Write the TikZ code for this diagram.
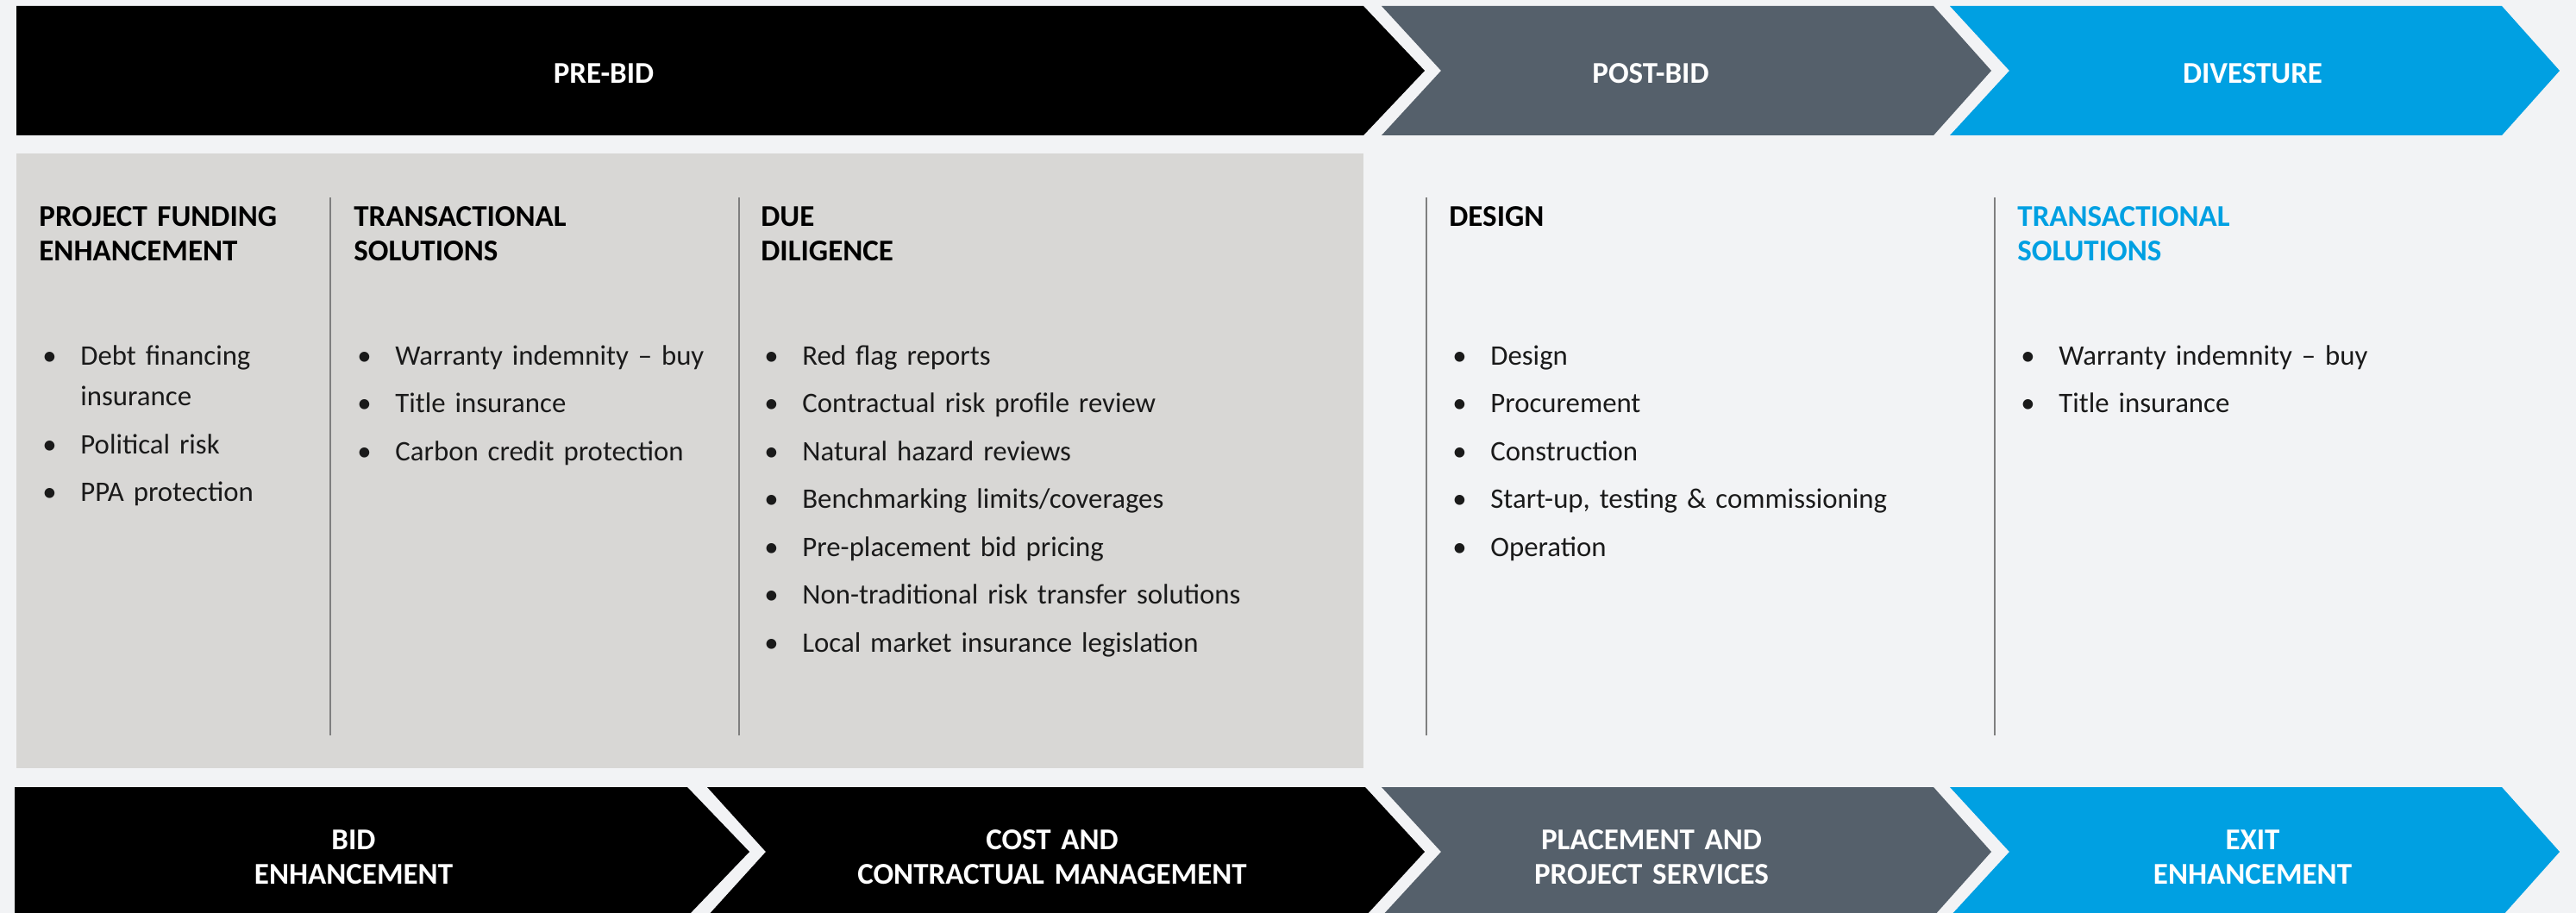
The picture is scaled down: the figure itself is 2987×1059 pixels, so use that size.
\documentclass[tikz,border=0pt]{standalone}
\usepackage{fontspec}
\setmainfont{Carlito}
\usepackage{xcolor}
\usepackage{tikz}

\definecolor{pagebg}{HTML}{F2F3F5}
\definecolor{panelgray}{HTML}{D8D7D5}
\definecolor{slate}{HTML}{55606B}
\definecolor{skyblue}{HTML}{00A0E2}
\definecolor{rulegray}{HTML}{7F7F7F}
\definecolor{bodytext}{HTML}{1A1A1A}

% one bullet point of a list
\newcommand{\itm}[1]{\hangindent=24pt\hangafter=1 \makebox[24pt][l]{\hspace{2pt}\textbullet}#1\par\vspace{4pt}}

\begin{document}
\begin{tikzpicture}[x=0.5pt, y=-0.5pt, % one unit = one pixel of the layout
		stage/.style={font=\fontsize{17.5}{20}\selectfont\bfseries, text=white, inner sep=0pt, anchor=base},
		stagetwo/.style={stage, text width=260pt, align=center},
		head/.style={font=\fontsize{17.5}{20}\selectfont\bfseries, text=black, text width=200pt, align=left, inner sep=0pt, anchor=base west},
		items/.style={font=\fontsize{16.4}{23.75}\selectfont, text=bodytext, text width=300pt, align=left, inner sep=0pt, anchor=base west},
		divider/.style={draw=rulegray, line width=0.8pt}
		]
		
		\useasboundingbox (0,0) rectangle (2987,1059);
		\fill[pagebg] (0,0) rectangle (2987,1059);
		
		% Top row of stages
		\fill[black] (19,7) -- (1581,7) -- (1652,82) -- (1581,157) -- (19,157) -- cycle;
		\fill[slate] (1602,7) -- (2242,7) -- (2309,82) -- (2242,157) -- (1602,157) -- (1671,82) -- cycle;
		\fill[skyblue] (2261,7) -- (2901,7) -- (2968,82) -- (2901,157) -- (2261,157) -- (2330,82) -- cycle;
		\node[stage] (prebid) at (700,97) {PRE-BID};
		\node[stage] (postbid) at (1914,97) {POST-BID};
		\node[stage] (divest) at (2612,97) {DIVESTURE};
		
		% Pre-bid panel
		\fill[panelgray] (19,178) rectangle (1581,891);
		
		% Column dividers
		\draw[divider] (383,229) -- (383,853);
		\draw[divider] (857,229) -- (857,853);
		\draw[divider] (1654,229) -- (1654,853);
		\draw[divider] (2313,229) -- (2313,853);
		
		% Project funding enhancement
		\node[head] (hfund) at (45,263) {PROJECT FUNDING\\ENHANCEMENT};
		\node[items] (lfund) at (45,423) {\itm{Debt financing\hfil\break insurance}\itm{Political risk}\itm{PPA protection}};
		
		% Transactional solutions
		\node[head] (htrans) at (410,263) {TRANSACTIONAL\\SOLUTIONS};
		\node[items] (ltrans) at (410,423) {\itm{Warranty indemnity – buy}\itm{Title insurance}\itm{Carbon credit protection}};
		
		% Due diligence
		\node[head] (hdue) at (882,263) {DUE\\DILIGENCE};
		\node[items] (ldue) at (882,423) {\itm{Red flag reports}\itm{Contractual risk profile review}\itm{Natural hazard reviews}\itm{Benchmarking limits/coverages}\itm{Pre-placement bid pricing}\itm{Non-traditional risk transfer solutions}\itm{Local market insurance legislation}};
		
		% Design
		\node[head] (hdesign) at (1680,263) {DESIGN};
		\node[items] (ldesign) at (1680,423) {\itm{Design}\itm{Procurement}\itm{Construction}\itm{Start-up, testing \& commissioning}\itm{Operation}};
		
		% Transactional solutions at exit
		\node[head, text=skyblue] (hexit) at (2339,263) {TRANSACTIONAL\\SOLUTIONS};
		\node[items] (lexit) at (2339,423) {\itm{Warranty indemnity – buy}\itm{Title insurance}};
		
		% Bottom row of services
		\fill[black] (17,913) -- (797,913) -- (869,988) -- (797,1063) -- (17,1063) -- cycle;
		\fill[black] (820,913) -- (1583,913) -- (1652,988) -- (1583,1063) -- (820,1063) -- (888,988) -- cycle;
		\fill[slate] (1602,913) -- (2242,913) -- (2309,988) -- (2242,1063) -- (1602,1063) -- (1671,988) -- cycle;
		\fill[skyblue] (2261,913) -- (2901,913) -- (2968,988) -- (2901,1063) -- (2261,1063) -- (2330,988) -- cycle;
		\node[stagetwo] (bidenh) at (410,985) {BID\\ENHANCEMENT};
		\node[stagetwo] (costmgmt) at (1220,985) {COST AND\\CONTRACTUAL MANAGEMENT};
		\node[stagetwo] (placement) at (1915,985) {PLACEMENT AND\\PROJECT SERVICES};
		\node[stagetwo] (exitenh) at (2612,985) {EXIT\\ENHANCEMENT};
		
	\end{tikzpicture}
\end{document}
